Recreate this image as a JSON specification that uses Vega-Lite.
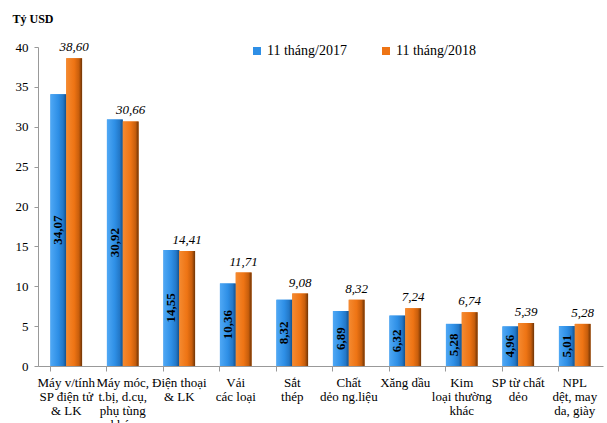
{
  "$schema": "https://vega.github.io/schema/vega-lite/v6.json",
  "autosize": "none",
  "width": 565,
  "height": 319,
  "padding": {"left": 38, "top": 47, "right": 4, "bottom": 57},
  "background": "white",
  "config": {"view": {"stroke": null}, "font": "Liberation Serif"},
  "data": {"values": [
    {"cat": "Máy v/tính|SP điện tử|& LK", "series": "11 tháng/2017", "value": 34.07, "label": "34,07"},
    {"cat": "Máy v/tính|SP điện tử|& LK", "series": "11 tháng/2018", "value": 38.60, "label": "38,60"},
    {"cat": "Máy móc,|t.bị, d.cụ,|phụ tùng|khác", "series": "11 tháng/2017", "value": 30.92, "label": "30,92"},
    {"cat": "Máy móc,|t.bị, d.cụ,|phụ tùng|khác", "series": "11 tháng/2018", "value": 30.66, "label": "30,66"},
    {"cat": "Điện thoại|& LK", "series": "11 tháng/2017", "value": 14.55, "label": "14,55"},
    {"cat": "Điện thoại|& LK", "series": "11 tháng/2018", "value": 14.41, "label": "14,41"},
    {"cat": "Vải|các loại", "series": "11 tháng/2017", "value": 10.36, "label": "10,36"},
    {"cat": "Vải|các loại", "series": "11 tháng/2018", "value": 11.71, "label": "11,71"},
    {"cat": "Sắt|thép", "series": "11 tháng/2017", "value": 8.32, "label": "8,32"},
    {"cat": "Sắt|thép", "series": "11 tháng/2018", "value": 9.08, "label": "9,08"},
    {"cat": "Chất|dẻo ng.liệu", "series": "11 tháng/2017", "value": 6.89, "label": "6,89"},
    {"cat": "Chất|dẻo ng.liệu", "series": "11 tháng/2018", "value": 8.32, "label": "8,32"},
    {"cat": "Xăng dầu", "series": "11 tháng/2017", "value": 6.32, "label": "6,32"},
    {"cat": "Xăng dầu", "series": "11 tháng/2018", "value": 7.24, "label": "7,24"},
    {"cat": "Kim|loại thường|khác", "series": "11 tháng/2017", "value": 5.28, "label": "5,28"},
    {"cat": "Kim|loại thường|khác", "series": "11 tháng/2018", "value": 6.74, "label": "6,74"},
    {"cat": "SP từ chất|dẻo", "series": "11 tháng/2017", "value": 4.96, "label": "4,96"},
    {"cat": "SP từ chất|dẻo", "series": "11 tháng/2018", "value": 5.39, "label": "5,39"},
    {"cat": "NPL|dệt, may|da, giày", "series": "11 tháng/2017", "value": 5.01, "label": "5,01"},
    {"cat": "NPL|dệt, may|da, giày", "series": "11 tháng/2018", "value": 5.28, "label": "5,28"}
  ]},
  "encoding": {
    "x": {"field": "cat", "type": "nominal", "sort": null,
      "scale": {"paddingInner": 0.44, "paddingOuter": 0.22},
      "axis": {"title": null, "labelAngle": 0, "labelExpr": "split(datum.value, '|')",
        "labelFont": "Liberation Serif", "labelFontSize": 13, "labelColor": "#000", "labelLineHeight": 14,
        "labelPadding": 5, "labelBaseline": "top",
        "domainColor": "#999", "tickColor": "#999", "tickSize": 5, "bandPosition": 0, "labelBound": false, "labelOverlap": false}},
    "xOffset": {"field": "series", "type": "nominal", "scale": {"domain": ["11 tháng/2017", "11 tháng/2018"], "paddingInner": 0}},
    "y": {"field": "value", "type": "quantitative",
      "scale": {"domain": [0, 40], "nice": false},
      "axis": {"values": [0, 5, 10, 15, 20, 25, 30, 35, 40], "grid": false, "title": "Tỷ USD",
        "titleAngle": 0, "titleX": -26, "titleY": -29, "titleAlign": "left", "titleBaseline": "middle",
        "titleFont": "Liberation Serif", "titleFontSize": 12, "titleFontWeight": "bold", "titleColor": "#000",
        "labelFont": "Liberation Serif", "labelFontSize": 13, "labelColor": "#000", "labelPadding": 6,
        "domainColor": "#999", "tickColor": "#999", "tickSize": 4}}
  },
  "layer": [
    {"mark": {"type": "bar"},
     "encoding": {"color": {"field": "series", "type": "nominal",
        "scale": {"domain": ["11 tháng/2017", "11 tháng/2018"], "range": ["#2E8FE6", "#EE7414"]},
        "legend": {"title": null, "orient": "none", "legendX": 212, "legendY": -3, "direction": "horizontal",
          "symbolType": "square", "symbolSize": 64, "labelFont": "Liberation Serif", "labelFontSize": 14,
          "labelColor": "#000", "columnPadding": 32, "labelOffset": 3}}}},
    {"transform": [{"filter": "datum.series == '11 tháng/2017'"}],
     "mark": {"type": "bar", "color": {"gradient": "linear", "x1": 0, "y1": 0, "x2": 1, "y2": 0,
        "stops": [{"offset": 0, "color": "#4FA8F5"}, {"offset": 0.5, "color": "#2E8FE6"}, {"offset": 0.8, "color": "#2378C8"}, {"offset": 1, "color": "#14508A"}]}}},
    {"transform": [{"filter": "datum.series == '11 tháng/2018'"}],
     "mark": {"type": "bar", "color": {"gradient": "linear", "x1": 0, "y1": 0, "x2": 1, "y2": 0,
        "stops": [{"offset": 0, "color": "#F58A30"}, {"offset": 0.5, "color": "#EE7414"}, {"offset": 0.8, "color": "#C85E0C"}, {"offset": 1, "color": "#6E3406"}]}}},
    {"transform": [{"filter": "datum.series == '11 tháng/2017'"}, {"calculate": "datum.value / 2", "as": "mid"}],
     "mark": {"type": "text", "angle": 270, "fontWeight": "bold", "fontSize": 13, "font": "Liberation Serif", "color": "#000", "baseline": "middle", "align": "center"},
     "encoding": {"y": {"field": "mid", "type": "quantitative"}, "text": {"field": "label"}}},
    {"transform": [{"filter": "datum.series == '11 tháng/2018'"}],
     "mark": {"type": "text", "fontStyle": "italic", "fontSize": 13, "font": "Liberation Serif", "color": "#000", "baseline": "bottom", "dy": -4, "align": "center"},
     "encoding": {"text": {"field": "label"}}}
  ]
}
